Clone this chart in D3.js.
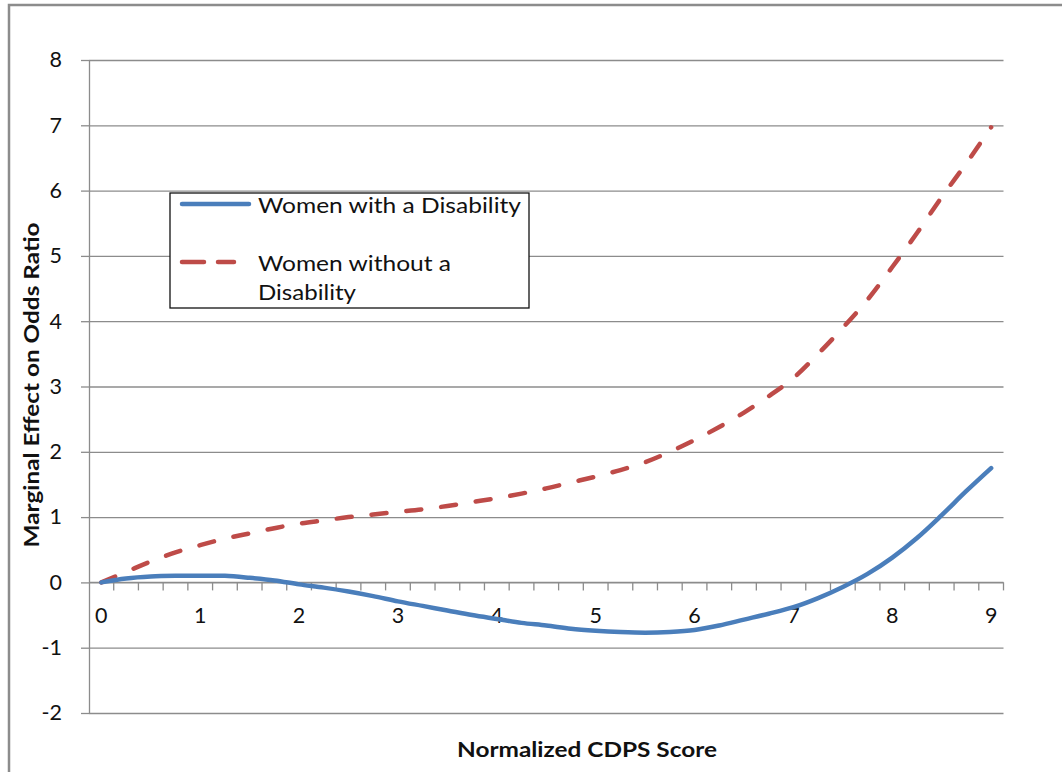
<!DOCTYPE html>
<html lang="en">
<head>
<meta charset="utf-8" />
<title>Marginal Effect on Odds Ratio</title>
<script src="https://d3js.org/d3.v7.min.js"></script>
<style>
  body { margin: 0; background: #fff; font-family: Lato, "Open Sans", sans-serif; }
  svg  { display: block; }
  .grid line { stroke: #8c8c8c; stroke-width: 1.3px; }
  .grid path { display: none; }
  .axis path, .axis line { stroke: #8c8c8c; stroke-width: 1.3px; }
  .axis text { font-family: Lato, sans-serif; font-size: 21.5px; fill: #111; }
  .title { font-family: Lato, sans-serif; font-weight: 700; font-size: 20px; fill: #111; }
  .legend text { font-family: Lato, sans-serif; font-size: 22px; fill: #111; }
</style>
</head>
<body>
<svg id="chart" width="1062" height="772"></svg>
<script>
// ---- data ----
const scores = [0, 0.25, 0.5, 0.75, 1, 1.25, 1.5, 1.75, 2, 2.25, 2.5, 2.75, 3, 3.25, 3.5, 3.75,
                4, 4.25, 4.5, 4.75, 5, 5.25, 5.5, 5.75, 6, 6.25, 6.5, 6.75, 7, 7.25, 7.5, 7.75,
                8, 8.25, 8.5, 8.75, 9];
const withDisability = [0, 0.06, 0.09, 0.1, 0.1, 0.1, 0.07, 0.03, -0.03, -0.08, -0.14, -0.21,
                        -0.29, -0.36, -0.43, -0.5, -0.56, -0.62, -0.66, -0.71, -0.74, -0.76, -0.77, -0.76,
                        -0.73, -0.66, -0.57, -0.48, -0.38, -0.24, -0.07, 0.13, 0.38, 0.68, 1.03, 1.4, 1.75];
const withoutDisability = [0, 0.16, 0.32, 0.46, 0.57, 0.67, 0.75, 0.83, 0.9, 0.95, 1.0, 1.04,
                           1.08, 1.12, 1.17, 1.23, 1.29, 1.36, 1.44, 1.53, 1.62, 1.72, 1.84, 2.0,
                           2.18, 2.38, 2.6, 2.85, 3.13, 3.5, 3.9, 4.33, 4.83, 5.35, 5.9, 6.42, 6.97];
const xLabels = [0, 1, 2, 3, 4, 5, 6, 7, 8, 9];
const yTicks = [-2, -1, 0, 1, 2, 3, 4, 5, 6, 7, 8];
const seriesNames = ["Women with a Disability", "Women without a Disability"];

// ---- layout ----
const svg = d3.select("#chart");
const plotL = 89, plotR = 1003.5, plotT = 60, plotB = 713;

const x = d3.scaleBand().domain(scores).range([plotL, plotR]).padding(0);
const y = d3.scaleLinear().domain([-2, 8]).range([plotB, plotT]);
const cx = d => x(d) + x.bandwidth() / 2;

// outer chart border (runs off the right / bottom of the crop)
svg.append("rect")
   .attr("x", 9).attr("y", 5).attr("width", 1100).attr("height", 820)
   .attr("fill", "none").attr("stroke", "#8c8c8c").attr("stroke-width", 2.5);

// horizontal gridlines
svg.append("g").attr("class", "grid")
   .attr("transform", `translate(${plotL},0)`)
   .call(d3.axisLeft(y).tickValues(yTicks).tickSize(-(plotR - plotL)).tickFormat(""));

// y axis
svg.append("g").attr("class", "axis")
   .attr("transform", `translate(${plotL},0)`)
   .call(d3.axisLeft(y).tickValues(yTicks).tickSize(8).tickSizeOuter(0).tickPadding(19)
          .tickFormat(d => String(d)));

// x axis line at zero with minor ticks on every category boundary
const xg = svg.append("g").attr("class", "axis");
xg.append("line")
  .attr("x1", plotL).attr("x2", plotR).attr("y1", y(0)).attr("y2", y(0));
xg.selectAll("line.tick")
  .data(scores)
  .enter().append("line").attr("class", "tick")
  .attr("x1", d => x(d) + x.bandwidth()).attr("x2", d => x(d) + x.bandwidth())
  .attr("y1", y(0)).attr("y2", y(0) + 8);
xg.selectAll("text")
  .data(xLabels)
  .enter().append("text")
  .attr("x", d => cx(d)).attr("y", y(0) + 41)
  .attr("text-anchor", "middle")
  .text(d => d);

// series lines
const line = vals => d3.line()
  .x((d, i) => cx(scores[i]))
  .y(d => y(d))
  .curve(d3.curveCatmullRom.alpha(0.5))(vals);

svg.append("path")
   .attr("d", line(withoutDisability))
   .attr("fill", "none").attr("stroke", "#be4b48").attr("stroke-width", 4.5)
   .attr("stroke-linecap", "round").attr("stroke-dasharray", "15 20");

svg.append("path")
   .attr("d", line(withDisability))
   .attr("fill", "none").attr("stroke", "#4a7ebb").attr("stroke-width", 4.5)
   .attr("stroke-linecap", "round");

// axis titles
svg.append("text").attr("class", "title")
   .attr("x", 587).attr("y", 757)
   .attr("text-anchor", "middle")
   .attr("textLength", 260).attr("lengthAdjust", "spacingAndGlyphs")
   .text("Normalized CDPS Score");

svg.append("text").attr("class", "title")
   .attr("transform", "translate(39,385) rotate(-90)")
   .attr("text-anchor", "middle")
   .attr("textLength", 325).attr("lengthAdjust", "spacingAndGlyphs")
   .text("Marginal Effect on Odds Ratio");

// legend
const lg = svg.append("g").attr("class", "legend");
lg.append("rect")
  .attr("x", 170).attr("y", 193).attr("width", 359).attr("height", 115)
  .attr("fill", "#fff").attr("stroke", "#111").attr("stroke-width", 1.3);
lg.append("line")
  .attr("x1", 182).attr("x2", 249).attr("y1", 204).attr("y2", 204)
  .attr("stroke", "#4a7ebb").attr("stroke-width", 4.5).attr("stroke-linecap", "round");
lg.append("line")
  .attr("x1", 182).attr("x2", 234).attr("y1", 262).attr("y2", 262)
  .attr("stroke", "#be4b48").attr("stroke-width", 4.5).attr("stroke-linecap", "round")
  .attr("stroke-dasharray", "22 14");
lg.append("text").attr("x", 258).attr("y", 213)
  .attr("textLength", 263).attr("lengthAdjust", "spacingAndGlyphs")
  .text(seriesNames[0]);
lg.append("text").attr("x", 258).attr("y", 271)
  .attr("textLength", 193).attr("lengthAdjust", "spacingAndGlyphs")
  .text("Women without a");
lg.append("text").attr("x", 258).attr("y", 300)
  .attr("textLength", 98).attr("lengthAdjust", "spacingAndGlyphs")
  .text("Disability");
</script>
</body>
</html>
